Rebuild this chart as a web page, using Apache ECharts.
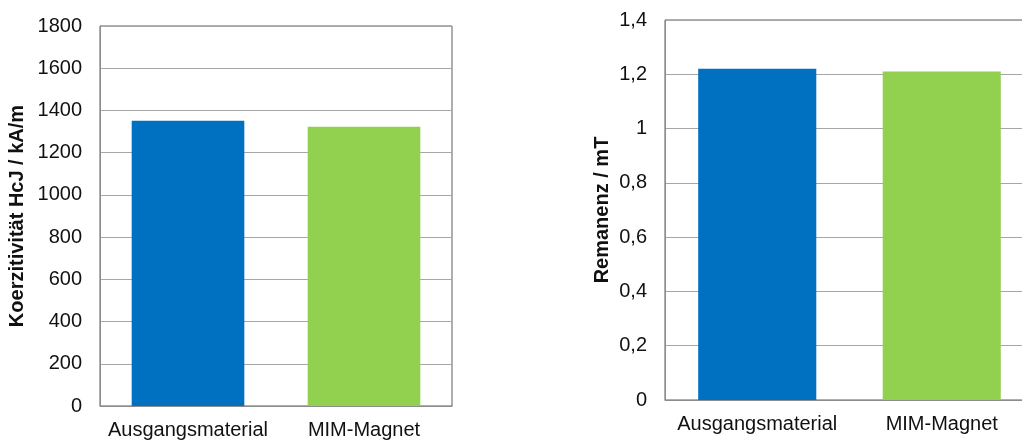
<!DOCTYPE html>
<html>
<head>
    <meta charset="utf-8">
    <title>Koerzitivität und Remanenz</title>
    <script src="https://cdn.jsdelivr.net/npm/echarts@6/dist/echarts.min.js"></script>
</head>
<body style="margin:0">
    <div id="main" style="width:1022px;height:441px;"></div>

    <script type="text/javascript">
        // Kategorien und Werte
        var categories = ['Ausgangsmaterial', 'MIM-Magnet'];
        var koerzitivitaet = [1351, 1323];
        var remanenz = [1.22, 1.21];
        var barColors = ['#0070c0', '#92d050'];

        var myChart = echarts.init(document.getElementById('main'));

        var font = 'Liberation Sans, Arial, sans-serif';

        function xAxisFor(gridIndex) {
            return {
                type: 'category',
                gridIndex: gridIndex,
                data: categories,
                axisTick: {show: false},
                axisLine: {lineStyle: {color: '#8c8c8c'}},
                axisLabel: {interval: 0, color: '#111', fontSize: 20, fontFamily: font, margin: 14}
            };
        }

        function barData(values) {
            return values.map(function (v, i) {
                return {value: v, itemStyle: {color: barColors[i]}};
            });
        }

        var option = {
            animation: false,
            grid: [
                {left: 100, top: 26, width: 352, height: 380, outerBoundsMode: 'none',
                    show: true, borderColor: '#5e5e5e', borderWidth: 1},
                {left: 665, top: 20, width: 369, height: 380, outerBoundsMode: 'none',
                    show: true, borderColor: '#5e5e5e', borderWidth: 1}
            ],
            xAxis: [xAxisFor(0), xAxisFor(1)],
            yAxis: [
                {
                    type: 'value',
                    gridIndex: 0,
                    min: 0, max: 1800, interval: 200,
                    name: 'Koerzitivität HcJ / kA/m',
                    nameLocation: 'middle',
                    nameGap: 73,
                    nameTextStyle: {fontSize: 20, fontWeight: 'bold', color: '#111', fontFamily: font},
                    axisLine: {show: true, lineStyle: {color: '#8c8c8c'}},
                    axisTick: {show: false},
                    axisLabel: {
                        color: '#111', fontSize: 20, fontFamily: font, margin: 18,
                        formatter: function (v) { return String(v); }
                    },
                    splitLine: {lineStyle: {color: '#a6a6a6'}}
                },
                {
                    type: 'value',
                    gridIndex: 1,
                    min: 0, max: 1.4, interval: 0.2,
                    name: 'Remanenz / mT',
                    nameLocation: 'middle',
                    nameGap: 53,
                    nameTextStyle: {fontSize: 20, fontWeight: 'bold', color: '#111', fontFamily: font},
                    axisLine: {show: true, lineStyle: {color: '#8c8c8c'}},
                    axisTick: {show: false},
                    axisLabel: {
                        color: '#111', fontSize: 20, fontFamily: font, margin: 18,
                        formatter: function (v) {
                            return String(Math.round(v * 10) / 10).replace('.', ',');
                        }
                    },
                    splitLine: {lineStyle: {color: '#a6a6a6'}}
                }
            ],
            series: [
                {
                    type: 'bar',
                    xAxisIndex: 0,
                    yAxisIndex: 0,
                    barWidth: '64%',
                    data: barData(koerzitivitaet)
                },
                {
                    type: 'bar',
                    xAxisIndex: 1,
                    yAxisIndex: 1,
                    barWidth: '64%',
                    data: barData(remanenz)
                }
            ]
        };

        myChart.setOption(option);
    </script>
</body>
</html>
